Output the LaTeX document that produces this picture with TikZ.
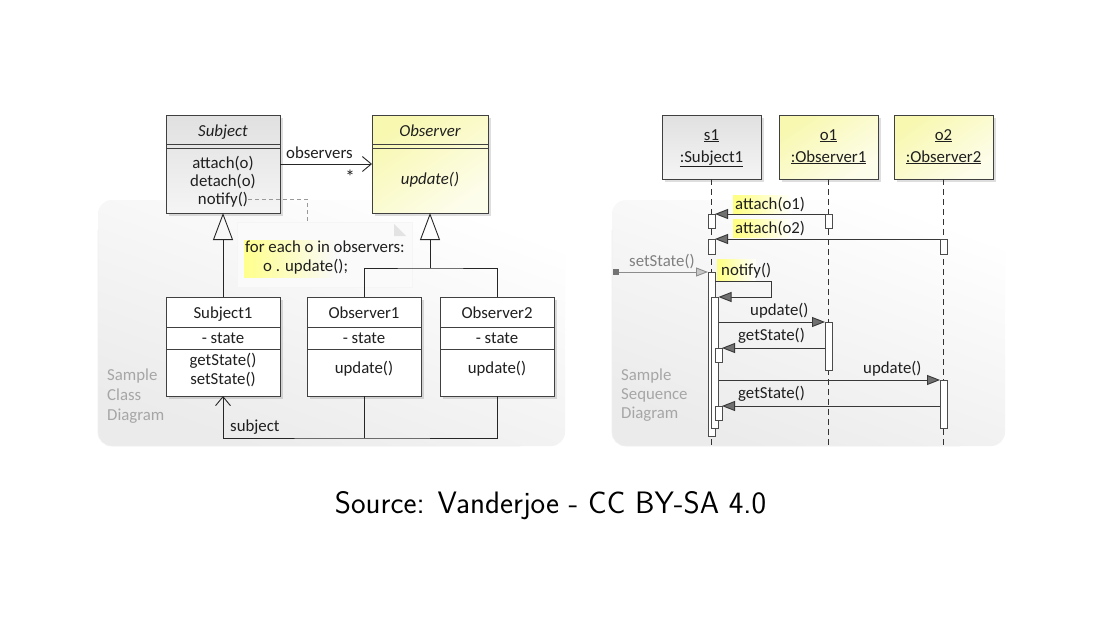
\documentclass[tikz,border=0pt]{standalone}
\usepackage{fontspec}
\newfontfamily\uml{Carlito}
\usetikzlibrary{arrows.meta,shadows,calc}
\newcommand\uf{\uml\fontsize{16.8}{19}\selectfont}
\definecolor{boxline}{HTML}{404040}
\definecolor{ygl}{HTML}{F8F8B0}
\definecolor{ylt}{HTML}{FDFDEC}
\definecolor{gtxt}{HTML}{A6A6A6}
\definecolor{msggray}{HTML}{707070}
\tikzset{
  tx/.style={font=\uf, inner sep=0pt, text=black!88},
  txi/.style={font=\uf\itshape, inner sep=0pt, text=black!88},
  graytx/.style={font=\uf, inner sep=0pt, text=gtxt},
  box/.style={draw=boxline, line width=0.8pt, anchor=north west, inner sep=0pt, outer sep=0pt,
    drop shadow={shadow xshift=2.5pt, shadow yshift=-2.5pt, opacity=0.13, fill=black}},
  graybox/.style={box, top color=black!12, bottom color=black!4},
  yelbox/.style={box, top color=ygl, bottom color=ylt, shading angle=35},
  whitebox/.style={box, fill=white},
  sep/.style={draw=boxline, line width=0.7pt},
  plainline/.style={draw=black!85, line width=0.9pt},
  assoc/.style={plainline, -{Straight Barb[length=9pt,width=15pt]}},
  gen/.style={plainline, -{Triangle[open,length=27pt,width=20pt]}},
  notelink/.style={draw=black!40, line width=0.7pt, dash pattern=on 4pt off 3pt},
  notebox/.style={fill=black!2, draw=black!4, anchor=north west, inner sep=0pt, outer sep=0pt},
  lifeline/.style={draw=black!80, line width=0.9pt, dash pattern=on 6pt off 4pt},
  bar/.style={draw=black!70, fill=white, line width=0.8pt, anchor=north west, inner sep=0pt, outer sep=0pt, minimum width=7pt},
  msg/.style={draw=black!78, line width=0.9pt, -{Triangle[length=13pt,width=10pt,fill=msggray]}},
  msgl/.style={draw=black!45, line width=0.9pt, -{Triangle[length=12pt,width=9pt,fill=black!22]}},
  panel/.style={top color=white, bottom color=black!8, shading angle=-20},
  panelrim/.style={draw=black!6, line width=0.8pt, rounded corners=14pt},
}
\begin{document}
\begin{tikzpicture}[x=1pt,y=-1pt]
\useasboundingbox (0,0) rectangle (1117,640);
\fill[white] (0,0) rectangle (1117,640);

% ---------- background panels
\shade[panel, rounded corners=14pt] (98,200) rectangle (565,446);
\draw[panelrim] (98,230) -- (98,446) -- (520,446);
\shade[panel, rounded corners=14pt] (612,200) rectangle (1005,446);
\draw[panelrim] (612,230) -- (612,446) -- (960,446);

% ================= CLASS DIAGRAM =================
\node[graybox, minimum width=114pt, minimum height=98pt] (subj) at (166,115) {};
\node[yelbox, minimum width=116pt, minimum height=98pt] (obs) at (372,115) {};
\node[whitebox, minimum width=114pt, minimum height=99pt] (sub1) at (166,297) {};
\node[whitebox, minimum width=114pt, minimum height=99pt] (ob1) at (307,297) {};
\node[whitebox, minimum width=114pt, minimum height=99pt] (ob2) at (440,297) {};

\foreach \n/\yy in {subj/144, subj/148, obs/144, obs/148, sub1/327, sub1/349, ob1/327, ob1/349, ob2/327, ob2/349}{
  \coordinate (tmp) at (0,\yy);
  \draw[sep] (\n.west |- tmp) -- (\n.east |- tmp);
}

\node[txi, anchor=base] (subjn) at (223,136) {Subject};
\node[tx, anchor=base] (att) at (223,168) {attach(o)};
\node[tx, anchor=base] (det) at (223,186) {detach(o)};
\node[tx, anchor=base] (ntf) at (223,204) {notify()};
\node[txi, anchor=base] (obsn) at (430,136) {Observer};
\node[txi, anchor=base] (obsu) at (430,184) {update()};

\node[tx, anchor=base] (s1n) at (223,318) {Subject1};
\node[tx, anchor=base] (s1s) at (223,343) {- state};
\node[tx, anchor=base] (s1g) at (223,365) {getState()};
\node[tx, anchor=base] (s1t) at (223,384) {setState()};
\node[tx, anchor=base] (o1n) at (364,318) {Observer1};
\node[tx, anchor=base] (o1s) at (364,343) {- state};
\node[tx, anchor=base] (o1u) at (364,373) {update()};
\node[tx, anchor=base] (o2n) at (497,318) {Observer2};
\node[tx, anchor=base] (o2s) at (497,343) {- state};
\node[tx, anchor=base] (o2u) at (497,373) {update()};

% association observers
\draw[assoc] (subj.east) -- (obs.west);
\node[tx, anchor=base west] (lobs) at (286,158) {observers};
\node[tx, font=\uml\fontsize{19}{20}\selectfont] (star) at (350,177) {*};

% note
\node[notebox, minimum width=175pt, minimum height=65pt] (note) at (237,222) {};
\fill[black!11] (394,224) -- (406,236) -- (394,236) -- cycle;
\shade[left color=yellow!45, right color=black!2] (244,240) rectangle (336,277);
\node[tx, anchor=base west] (nt1) at (245,252) {for each o in observers:};
\node[tx, anchor=base west] (nt2) at (263,271) {o . update();};
\coordinate (nk) at (307,0);
\draw[notelink] (ntf.east) -| (nk |- note.north);

% generalizations
\draw[gen] (sub1.north) -- (subj.south);
\coordinate (gj) at (430,268);
\draw[plainline] (ob1.north) |- (gj) -| (ob2.north);
\draw[gen] (gj) -- (obs.south);

% association subject
\coordinate (sj) at (364,438);
\draw[plainline] (ob1.south) -- (ob1.south |- sj);
\draw[assoc] (ob2.south) |- (sj) -| (sub1.south);
\node[tx, anchor=base west] (lsub) at (230,431) {subject};

\node[graytx, anchor=base west] (cl1) at (107,380) {Sample};
\node[graytx, anchor=base west] (cl2) at (107,400) {Class};
\node[graytx, anchor=base west] (cl3) at (107,420) {Diagram};

% ================= SEQUENCE DIAGRAM =================
\node[graybox, minimum width=99pt, minimum height=64pt] (s1) at (662,115) {};
\node[yelbox, minimum width=99pt, minimum height=64pt] (o1) at (779,115) {};
\node[yelbox, minimum width=99pt, minimum height=64pt] (o2) at (894,115) {};

\node[tx, anchor=base] (s1a) at (711.5,140) {\underline{s1}};
\node[tx, anchor=base] (s1b) at (711.5,162) {\underline{:Subject1}};
\node[tx, anchor=base] (o1a) at (828.5,140) {\underline{o1}};
\node[tx, anchor=base] (o1b) at (828.5,162) {\underline{:Observer1}};
\node[tx, anchor=base] (o2a) at (943.5,140) {\underline{o2}};
\node[tx, anchor=base] (o2b) at (943.5,162) {\underline{:Observer2}};

\coordinate (lend) at (0,447);
\draw[lifeline] (s1.south) -- (s1.south |- lend);
\draw[lifeline] (o1.south) -- (o1.south |- lend);
\draw[lifeline] (o2.south) -- (o2.south |- lend);

% highlights
\shade[left color=yellow!50, right color=white] (733,195) rectangle (792,213);
\shade[left color=yellow!50, right color=white] (733,219) rectangle (792,237);
\shade[left color=yellow!50, right color=white] (717,259) rectangle (756,280);

% activation bars
\node[bar, minimum height=14pt] (sa1) at (708,214) {};
\node[bar, minimum height=15pt] (sa2) at (708,239) {};
\node[bar, minimum height=164pt] (smain) at (708,272) {};
\node[bar, minimum height=131pt] (snest) at (711.5,297) {};
\node[bar, minimum height=14pt] (sg1) at (715,348) {};
\node[bar, minimum height=14pt] (sg2) at (715,406) {};
\node[bar, minimum height=14pt] (oa1) at (825,214) {};
\node[bar, minimum height=48pt] (ou1) at (825,322) {};
\node[bar, minimum height=15pt] (ob2a) at (940,239) {};
\node[bar, minimum height=48pt] (ou2) at (940,380) {};

\node[fill=black!55, minimum size=6pt, inner sep=0pt] (ssq) at (616,272) {};

% messages
\draw[msg] (oa1.north west) -- (sa1.north east);
\draw[msg] (ob2a.north west) -- (sa2.north east);
\draw[msgl] (ssq.east) -- (smain.north west);
\coordinate (lp) at (771,297);
\draw[msg] ([yshift=-9pt]smain.north east) -| (lp) -- (snest.north east);
\draw[msg] (snest.east |- ou1.north west) -- (ou1.north west);
\draw[msg] (ou1.west |- sg1.north east) -- (sg1.north east);
\draw[msg] (snest.east |- ou2.north west) -- (ou2.north west);
\draw[msg] (ou2.west |- sg2.north east) -- (sg2.north east);

\node[tx, anchor=base west] (la1) at (735,209) {attach(o1)};
\node[tx, anchor=base west] (la2) at (735,233) {attach(o2)};
\node[graytx, anchor=base west, text=black!50] (lss) at (629,266) {setState()};
\node[tx, anchor=base west] (lnt) at (721,275) {notify()};
\node[tx, anchor=base west] (lu1) at (750,315) {update()};
\node[tx, anchor=base west] (lg1) at (738,340) {getState()};
\node[tx, anchor=base west] (lu2) at (863,373) {update()};
\node[tx, anchor=base west] (lg2) at (738,398) {getState()};

\node[graytx, anchor=base west] (sq1) at (621,380) {Sample};
\node[graytx, anchor=base west] (sq2) at (621,399) {Sequence};
\node[graytx, anchor=base west] (sq3) at (621,418) {Diagram};

% caption
\node[font=\sffamily\fontsize{31}{36}\selectfont, inner sep=0pt, anchor=base] (cap) at (550.5,513) {Source: Vanderjoe - CC BY-SA 4.0};
\end{tikzpicture}
\end{document}
